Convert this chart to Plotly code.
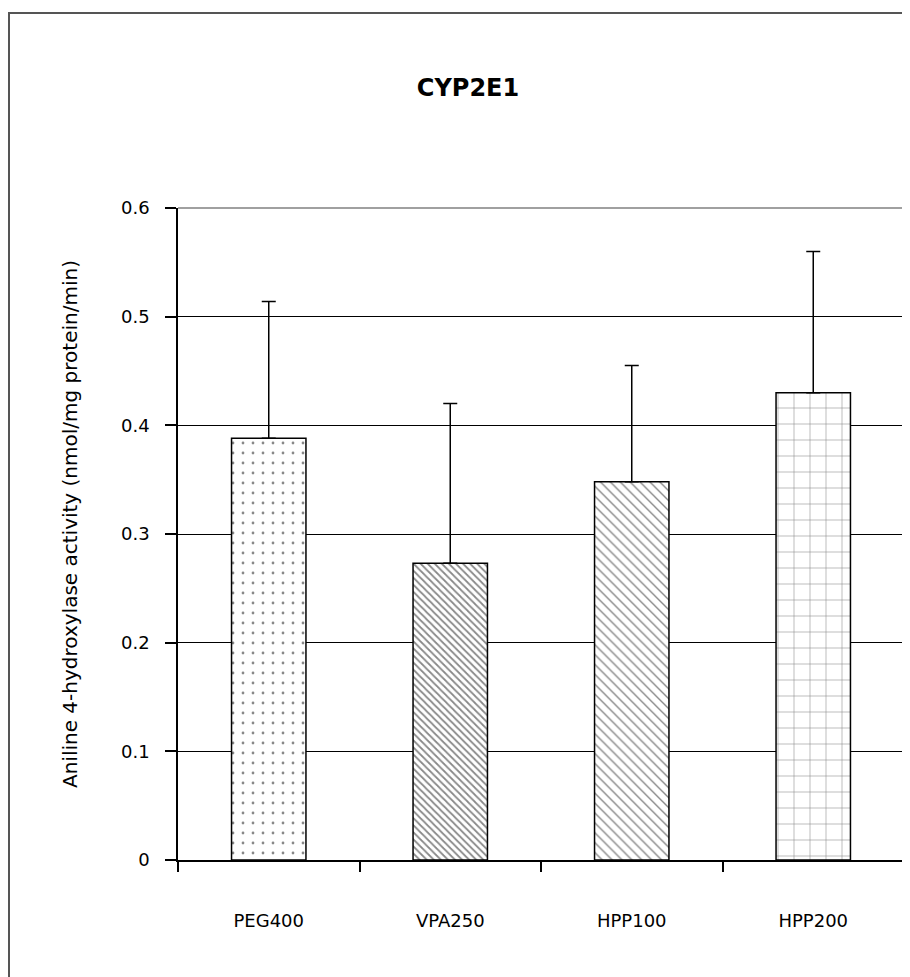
import plotly.graph_objects as go

categories = ["PEG400", "VPA250", "HPP100", "HPP200"]
means = [0.388, 0.273, 0.348, 0.430]
sd_plus = [0.126, 0.147, 0.107, 0.130]
pattern_shapes = [".", "\\", "\\", "+"]
pattern_sizes = [10, 5, 7, 16]
pattern_solidity = [0.06, 0.35, 0.2, 0.07]

y_ticks = [0, 0.1, 0.2, 0.3, 0.4, 0.5, 0.6]
y_tick_text = ["0", "0.1", "0.2", "0.3", "0.4", "0.5", "0.6"]
y_title = "Aniline 4-hydroxylase activity (nmol/mg protein/min)"

FONT = "DejaVu Sans, Liberation Sans, Arial, sans-serif"

# the page body adds an 8px offset, so the figure is laid out 8px up/left
L, R, T, B = 170, 14, 200, 125
W, H = 910, 977
PW, PH = W - L - R, H - T - B

fig = go.Figure()
fig.add_trace(go.Bar(
    x=categories,
    y=means,
    marker=dict(
        color="white",
        line=dict(color="black", width=1.5),
        pattern=dict(
            shape=pattern_shapes,
            size=pattern_sizes,
            solidity=pattern_solidity,
            fgcolor="#111111",
            bgcolor="white",
            fillmode="overlay",
        ),
    ),
    error_y=dict(
        type="data",
        symmetric=False,
        array=sd_plus,
        arrayminus=[0] * len(sd_plus),
        color="black",
        thickness=1.5,
        width=7,
    ),
    showlegend=False,
))

fig.update_layout(
    width=W,
    height=H,
    margin=dict(l=L, r=R, t=T, b=B),
    paper_bgcolor="white",
    plot_bgcolor="white",
    bargap=0.59,
    font=dict(family=FONT, size=18, color="black"),
    title=dict(
        text="<b>CYP2E1</b>",
        font=dict(family=FONT, size=24, color="black"),
        xref="container", yref="container",
        x=460 / W, y=1 - 80 / H,
        xanchor="center", yanchor="middle",
    ),
    xaxis=dict(
        showline=True, linecolor="black", linewidth=1.5,
        ticks="outside", tickson="boundaries", ticklen=10,
        tickcolor="black", tickwidth=1.5,
        showgrid=False,
        ticklabelstandoff=44,
        tickfont=dict(size=18),
    ),
    yaxis=dict(
        range=[0, 0.6],
        tickvals=y_ticks,
        ticktext=y_tick_text,
        showline=True, linecolor="black", linewidth=1.5,
        ticks="outside", ticklen=11, tickcolor="black", tickwidth=1.5,
        showgrid=True, gridcolor="black", gridwidth=1.2,
        zeroline=False,
        ticklabelstandoff=12,
        tickfont=dict(size=18),
    ),
    annotations=[
        dict(text=y_title, textangle=-90, showarrow=False,
             xref="paper", yref="paper",
             x=(62 - L) / PW, y=(T + PH - 516) / PH,
             xanchor="center", yanchor="middle",
             font=dict(family=FONT, size=20, color="black")),
    ],
    shapes=[
        # plot-area border (top and right, grey)
        dict(type="path", xref="paper", yref="paper",
             path="M 0,1 L 1,1 L 1,0", line=dict(color="#a0a0a0", width=2),
             layer="above"),
        # outer chart frame
        dict(type="rect", xref="paper", yref="paper",
             x0=(1 - L) / PW, x1=(930 - L) / PW,
             y0=(T + PH - 1000) / PH,
             y1=(T + PH - 5) / PH,
             line=dict(color="#555555", width=2), fillcolor="rgba(0,0,0,0)",
             layer="below"),
    ],
)

fig.write_html("out.html")
